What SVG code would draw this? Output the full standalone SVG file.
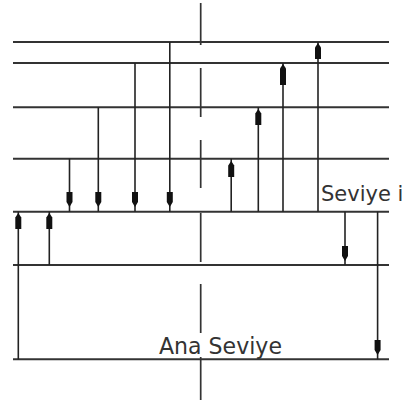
<svg xmlns="http://www.w3.org/2000/svg" width="407" height="407" viewBox="0 0 407 407">
<style>
.lvl{stroke:#333;stroke-width:2;fill:none}
.con{stroke:#222;stroke-width:1.6;fill:none}
.axis{stroke:#333;stroke-width:1.7;fill:none;stroke-dasharray:42 23 49 23 48 25 49 22 49 24 43}
.ah{fill:#111;stroke:none}
.lbl{font-family:"DejaVu Sans",Verdana,sans-serif;font-size:23px;fill:#333}
</style>
<defs>
<path id="up" class="ah" d="M0,0 L3,4.5 L3,16 L-3,16 L-3,4.5 Z"/>
<path id="dn" class="ah" d="M0,0 L-3,-5 L-3,-15 L3,-15 L3,-5 Z"/>
</defs>
<rect width="407" height="407" fill="#fff"/>
<line class="axis" x1="200.7" y1="3" x2="200.7" y2="403"/>
<g id="level1"><line class="lvl" x1="13" y1="42" x2="389" y2="42"/></g>
<g id="level2"><line class="lvl" x1="13" y1="63" x2="389" y2="63"/></g>
<g id="level3"><line class="lvl" x1="13" y1="107.3" x2="389" y2="107.3"/></g>
<g id="level4"><line class="lvl" x1="13" y1="158.7" x2="389" y2="158.7"/></g>
<g id="seviye-i"><line class="lvl" x1="13" y1="211.7" x2="389" y2="211.7"/><text class="lbl" x="321" y="201" style="font-size:21px">Seviye i</text></g>
<g id="level6"><line class="lvl" x1="13" y1="265" x2="389" y2="265"/></g>
<g id="ana-seviye"><line class="lvl" x1="13" y1="359.3" x2="389" y2="359.3"/><text class="lbl" x="159" y="354" textLength="123" lengthAdjust="spacingAndGlyphs">Ana Seviye</text></g>
<g id="connectors">
<line class="con" x1="69.5" y1="158.7" x2="69.5" y2="211.7"/><use href="#dn" x="69.5" y="207"/>
<line class="con" x1="98.3" y1="107.3" x2="98.3" y2="211.7"/><use href="#dn" x="98.3" y="207"/>
<line class="con" x1="135" y1="63" x2="135" y2="211.7"/><use href="#dn" x="135" y="207"/>
<line class="con" x1="169.8" y1="42" x2="169.8" y2="211.7"/><use href="#dn" x="169.8" y="207"/>
<line class="con" x1="231.2" y1="211.7" x2="231.2" y2="158.7"/><use href="#up" x="231.2" y="161"/>
<line class="con" x1="258.3" y1="211.7" x2="258.3" y2="107.3"/><use href="#up" x="258.3" y="109"/>
<line class="con" x1="283" y1="211.7" x2="283" y2="63"/><use href="#up" x="283" y="64"/><use href="#up" x="283" y="69"/>
<line class="con" x1="318" y1="211.7" x2="318" y2="42"/><use href="#up" x="318" y="43"/>
<line class="con" x1="18.3" y1="359.3" x2="18.3" y2="211.7"/><use href="#up" x="18.3" y="213"/>
<line class="con" x1="49.3" y1="265" x2="49.3" y2="211.7"/><use href="#up" x="49.3" y="213"/>
<line class="con" x1="345" y1="211.7" x2="345" y2="265"/><use href="#dn" x="345" y="261"/>
<line class="con" x1="377.6" y1="211.7" x2="377.6" y2="359.3"/><use href="#dn" x="377.6" y="355"/>
</g>
</svg>
